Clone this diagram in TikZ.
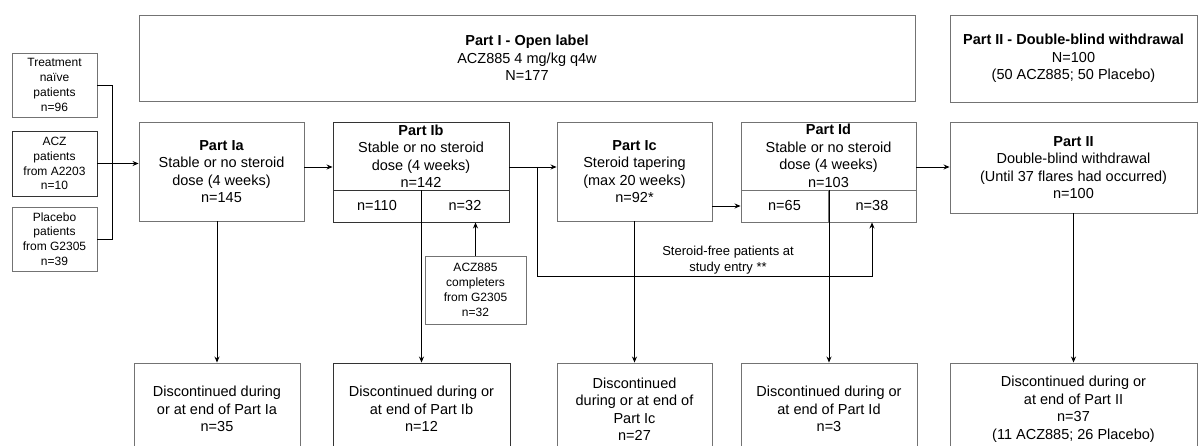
\documentclass[tikz,border=0pt]{standalone}
\usepackage{fontspec}
\setmainfont{Liberation Sans}
\usetikzlibrary{arrows.meta}
\begin{document}
\begin{tikzpicture}[x=1pt, y=-1pt,
	box/.style={draw=black!55, line width=0.9pt, align=center, inner sep=2pt, font=\fontsize{14.5}{17.5}\selectfont},
	dbox/.style={box, draw=black!80},
	small/.style={font=\fontsize{12}{14.8}\selectfont},
	arr/.style={-{Stealth[length=6pt,width=5pt]}, line width=0.9pt},
	line/.style={line width=0.9pt}]
	\useasboundingbox (0,0) rectangle (1198,446);
	
	% Kopfzeile
	\node[box, minimum width=776pt, minimum height=86pt] (partI) at (527,58) {\textbf{Part I - Open label}\\ACZ885 4 mg/kg q4w\\N=177};
	\node[box, minimum width=247pt, minimum height=87pt] (partII) at (1073.5,58.5) {\textbf{Part II - Double-blind withdrawal}\\N=100\\(50 ACZ885; 50 Placebo)};
	
	% Herkunft der Patienten
	\node[box, small, minimum width=85pt, minimum height=64pt] (naive) at (54.5,85) {Treatment\\naïve\\patients\\n=96};
	\node[dbox, small, minimum width=85pt, minimum height=65pt] (acz) at (54.5,163.5) {ACZ\\patients\\from A2203\\n=10};
	\node[box, small, minimum width=85pt, minimum height=64pt] (plc) at (54.5,239) {Placebo\\patients\\from G2305\\n=39};
	
	% Studienteile
	\node[box, minimum width=165pt, minimum height=99pt] (Ia) at (221.5,171.5) {\textbf{Part Ia}\\Stable or no steroid\\dose (4 weeks)\\n=145};
	\node[dbox, minimum width=176pt, minimum height=68pt] (Ib) at (421,156) {\textbf{Part Ib}\\Stable or no steroid\\dose (4 weeks)\\n=142};
	\node[dbox, minimum width=88pt, minimum height=32pt] (n110) at (377,206) {n=110};
	\node[dbox, minimum width=88pt, minimum height=32pt] (n32) at (465,206) {n=32};
	\node[box, minimum width=155pt, minimum height=99pt] (Ic) at (634.5,171.5) {\textbf{Part Ic}\\Steroid tapering\\(max 20 weeks)\\n=92*};
	\node[box, minimum width=175pt, minimum height=68pt] (Id) at (828.5,156) {\textbf{Part Id}\\Stable or no steroid\\dose (4 weeks)\\n=103};
	\node[box, minimum width=87pt, minimum height=32pt] (n65) at (784.5,206) {n=65};
	\node[box, minimum width=88pt, minimum height=32pt] (n38) at (872,206) {n=38};
	\node[box, minimum width=247pt, minimum height=91pt] (II) at (1073.5,167.5) {\textbf{Part II}\\Double-blind withdrawal\\(Until 37 flares had occurred)\\n=100};
	
	\node[box, small, minimum width=101pt, minimum height=68pt] (cmp) at (475.5,290) {ACZ885\\completers\\from G2305\\n=32};
	
	% Abbrecher
	\node[box, minimum width=166pt, minimum height=92pt] (d1) at (217,409) {Discontinued during\\or at end of Part Ia\\n=35};
	\node[dbox, minimum width=177pt, minimum height=92pt] (d2) at (421.5,409) {Discontinued during or\\at end of Part Ib\\n=12};
	\node[box, minimum width=155pt, minimum height=92pt] (d3) at (634.5,409) {Discontinued\\during or at end of\\Part Ic\\n=27};
	\node[box, minimum width=176pt, minimum height=92pt] (d4) at (829,409) {Discontinued during or\\at end of Part Id\\n=3};
	\node[box, minimum width=247pt, minimum height=92pt] (d5) at (1073.5,409) {Discontinued during or\\at end of Part II\\n=37\\(11 ACZ885; 26 Placebo)};
	
	% Verbindungen
	\coordinate (ab) at (0,167);
	\coordinate (br) at (537,167);
	\draw[line] (naive.east) -- ++(15,0) |- (plc.east);
	\draw[arr] (acz.east) -- (acz.east -| Ia.west);
	\draw[arr] (Ia.east |- ab) -- (Ib.west |- ab);
	\draw[arr] (Ib.east |- ab) -- (Ic.west |- ab);
	\draw[arr] (n65.west -| Ic.east) -- (n65.west);
	\draw[arr] (Id.east |- ab) -- (II.west |- ab);
	\draw[arr] (cmp.north) -- (cmp.north |- n32.south);
	\draw[arr] (br) -- (537,276) -| (n38.south);
	\node[align=center, font=\fontsize{13}{16}\selectfont, inner sep=1pt] (sfree) at (728,260) {Steroid-free patients at\\study entry **};
	\foreach \a/\b in {Ia/d1, Ib/d2, Ic/d3, Id/d4, II/d5}
		\draw[arr] (\a.south -| \b.north) -- (\b.north);
\end{tikzpicture}
\end{document}
